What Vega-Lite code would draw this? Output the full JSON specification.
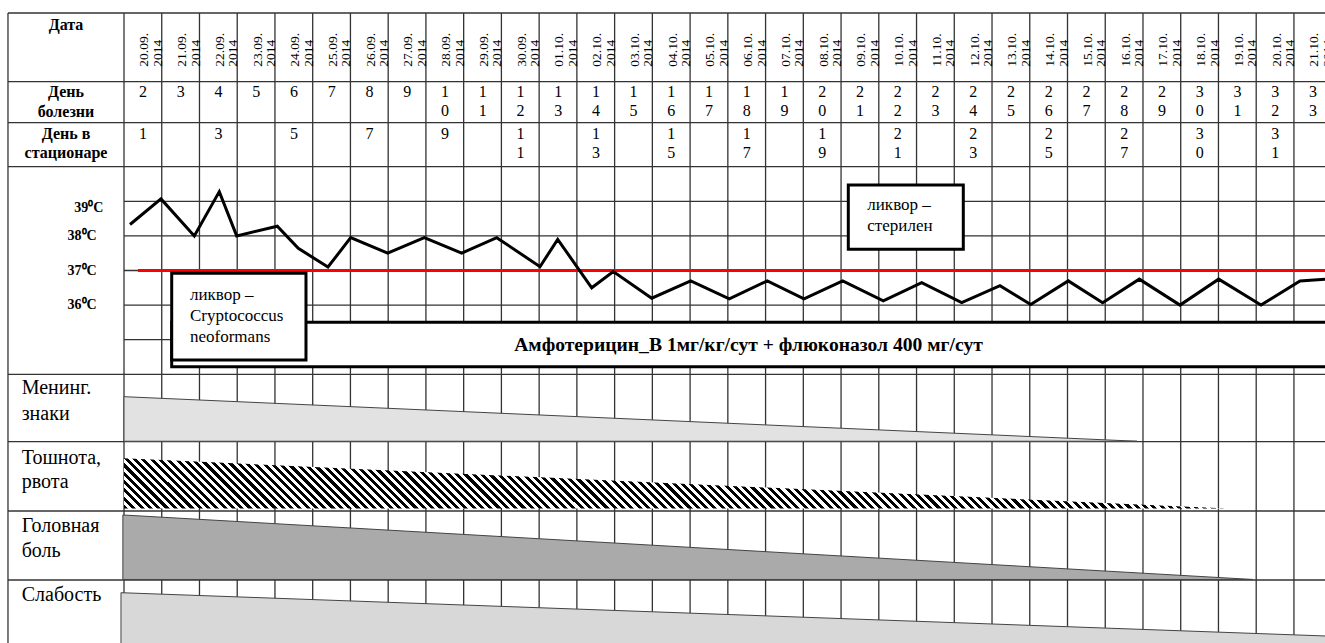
{
"$schema":"https://vega.github.io/schema/vega-lite/v6.json",
"width":1325,"height":643,"autosize":"none","padding":0,"background":"white",
"config":{"view":{"stroke":null},"axis":{"disable":true},"text":{"font":"Liberation Serif","color":"#000"}},
"datasets":{
"days":[
{"i":0,"date":"20.09.2014","ill":2,"hosp":1},
{"i":1,"date":"21.09.2014","ill":3,"hosp":null},
{"i":2,"date":"22.09.2014","ill":4,"hosp":3},
{"i":3,"date":"23.09.2014","ill":5,"hosp":null},
{"i":4,"date":"24.09.2014","ill":6,"hosp":5},
{"i":5,"date":"25.09.2014","ill":7,"hosp":null},
{"i":6,"date":"26.09.2014","ill":8,"hosp":7},
{"i":7,"date":"27.09.2014","ill":9,"hosp":null},
{"i":8,"date":"28.09.2014","ill":10,"hosp":9},
{"i":9,"date":"29.09.2014","ill":11,"hosp":null},
{"i":10,"date":"30.09.2014","ill":12,"hosp":11},
{"i":11,"date":"01.10.2014","ill":13,"hosp":null},
{"i":12,"date":"02.10.2014","ill":14,"hosp":13},
{"i":13,"date":"03.10.2014","ill":15,"hosp":null},
{"i":14,"date":"04.10.2014","ill":16,"hosp":15},
{"i":15,"date":"05.10.2014","ill":17,"hosp":null},
{"i":16,"date":"06.10.2014","ill":18,"hosp":17},
{"i":17,"date":"07.10.2014","ill":19,"hosp":null},
{"i":18,"date":"08.10.2014","ill":20,"hosp":19},
{"i":19,"date":"09.10.2014","ill":21,"hosp":null},
{"i":20,"date":"10.10.2014","ill":22,"hosp":21},
{"i":21,"date":"11.10.2014","ill":23,"hosp":null},
{"i":22,"date":"12.10.2014","ill":24,"hosp":23},
{"i":23,"date":"13.10.2014","ill":25,"hosp":null},
{"i":24,"date":"14.10.2014","ill":26,"hosp":25},
{"i":25,"date":"15.10.2014","ill":27,"hosp":null},
{"i":26,"date":"16.10.2014","ill":28,"hosp":27},
{"i":27,"date":"17.10.2014","ill":29,"hosp":null},
{"i":28,"date":"18.10.2014","ill":30,"hosp":30},
{"i":29,"date":"19.10.2014","ill":31,"hosp":null},
{"i":30,"date":"20.10.2014","ill":32,"hosp":31},
{"i":31,"date":"21.10.2014","ill":33,"hosp":null}
],
"temp":[{"d":0.159,"t":38.33},{"d":0.98,"t":39.07},{"d":1.863,"t":38.0},{"d":2.525,"t":39.28},{"d":2.986,"t":38.0},{"d":4.062,"t":38.28},{"d":4.618,"t":37.64},{"d":5.405,"t":37.1},{"d":6.007,"t":37.95},{"d":6.987,"t":37.5},{"d":7.957,"t":37.95},{"d":8.948,"t":37.5},{"d":9.876,"t":37.95},{"d":11.023,"t":37.11},{"d":11.492,"t":37.9},{"d":12.393,"t":36.5},{"d":12.965,"t":36.97},{"d":13.983,"t":36.2},{"d":15.016,"t":36.7},{"d":16.039,"t":36.18},{"d":17.046,"t":36.7},{"d":18.018,"t":36.18},{"d":19.043,"t":36.7},{"d":20.119,"t":36.12},{"d":21.137,"t":36.65},{"d":22.197,"t":36.07},{"d":23.211,"t":36.56},{"d":24.025,"t":36.02},{"d":25.021,"t":36.7},{"d":25.932,"t":36.07},{"d":26.902,"t":36.75},{"d":27.981,"t":36.0},{"d":29.006,"t":36.75},{"d":30.127,"t":36.0},{"d":31.161,"t":36.7},{"d":31.823,"t":36.75}]
},
"layer":[
{"data":{"name":"days"},"mark":{"type":"rule","color":"#333","strokeWidth":1.3},
 "encoding":{"x":{"field":"i","type":"quantitative","scale":{"domain":[-3.2856,31.823],"nice":false,"zero":false}},
  "y":{"datum":44.442,"type":"quantitative","scale":{"domain":[26.234,44.818],"nice":false,"zero":false}},
  "y2":{"datum":26.234}}},
{"data":{"values":[{}]},"mark":{"type":"rule","color":"#333","strokeWidth":1.3},
 "encoding":{"x":{"datum":-3.074,"type":"quantitative"},"y":{"datum":44.442,"type":"quantitative"},"y2":{"datum":26.234}}},
{"data":{"values":[{"b":44.442},{"b":42.457},{"b":41.272},{"b":40},{"b":34},{"b":32.052},{"b":30.049},{"b":28.055}]},
 "mark":{"type":"rule","color":"#333","strokeWidth":1.3,"clip":true},
 "encoding":{"x":{"datum":-3.074,"type":"quantitative"},"x2":{"datum":32},"y":{"field":"b","type":"quantitative"}}},
{"data":{"values":[{"t":35},{"t":36},{"t":37},{"t":38},{"t":39}]},
 "mark":{"type":"rule","color":"#333","strokeWidth":1.3,"clip":true},
 "encoding":{"x":{"datum":0,"type":"quantitative"},"x2":{"datum":32},"y":{"field":"t","type":"quantitative"}}},
{"data":{"values":[{"d":0,"top":33.353,"bot":32.065},{"d":26.84,"top":32.065,"bot":32.065}]},
 "mark":{"type":"area","fill":"#e2e2e2","stroke":"#444","strokeWidth":1},
 "encoding":{"x":{"field":"d","type":"quantitative"},"y":{"field":"top","type":"quantitative"},"y2":{"field":"bot"}}},
{"data":{"values":[{"d":0,"top":31.572,"bot":30.12},{"d":29.23,"top":30.12,"bot":30.12}]},
 "mark":{"type":"area","fill":{"gradient":"linear","x1":0,"y1":1,"x2":1.8773,"y2":0.91447,"stops":[
{"offset":0,"color":"#000"},
{"offset":0.002,"color":"#000"},{"offset":0.002,"color":"#fff"},{"offset":0.004,"color":"#fff"},{"offset":0.004,"color":"#000"},{"offset":0.006,"color":"#000"},{"offset":0.006,"color":"#fff"},{"offset":0.008,"color":"#fff"},{"offset":0.008,"color":"#000"},{"offset":0.01,"color":"#000"},{"offset":0.01,"color":"#fff"},{"offset":0.012,"color":"#fff"},{"offset":0.012,"color":"#000"},{"offset":0.014,"color":"#000"},{"offset":0.014,"color":"#fff"},{"offset":0.016,"color":"#fff"},{"offset":0.016,"color":"#000"},{"offset":0.018,"color":"#000"},{"offset":0.018,"color":"#fff"},{"offset":0.02,"color":"#fff"},{"offset":0.02,"color":"#000"},
{"offset":0.022,"color":"#000"},{"offset":0.022,"color":"#fff"},{"offset":0.024,"color":"#fff"},{"offset":0.024,"color":"#000"},{"offset":0.026,"color":"#000"},{"offset":0.026,"color":"#fff"},{"offset":0.028,"color":"#fff"},{"offset":0.028,"color":"#000"},{"offset":0.03,"color":"#000"},{"offset":0.03,"color":"#fff"},{"offset":0.032,"color":"#fff"},{"offset":0.032,"color":"#000"},{"offset":0.034,"color":"#000"},{"offset":0.034,"color":"#fff"},{"offset":0.036,"color":"#fff"},{"offset":0.036,"color":"#000"},{"offset":0.038,"color":"#000"},{"offset":0.038,"color":"#fff"},{"offset":0.04,"color":"#fff"},{"offset":0.04,"color":"#000"},
{"offset":0.042,"color":"#000"},{"offset":0.042,"color":"#fff"},{"offset":0.044,"color":"#fff"},{"offset":0.044,"color":"#000"},{"offset":0.046,"color":"#000"},{"offset":0.046,"color":"#fff"},{"offset":0.048,"color":"#fff"},{"offset":0.048,"color":"#000"},{"offset":0.05,"color":"#000"},{"offset":0.05,"color":"#fff"},{"offset":0.052,"color":"#fff"},{"offset":0.052,"color":"#000"},{"offset":0.054,"color":"#000"},{"offset":0.054,"color":"#fff"},{"offset":0.056,"color":"#fff"},{"offset":0.056,"color":"#000"},{"offset":0.058,"color":"#000"},{"offset":0.058,"color":"#fff"},{"offset":0.06,"color":"#fff"},{"offset":0.06,"color":"#000"},
{"offset":0.062,"color":"#000"},{"offset":0.062,"color":"#fff"},{"offset":0.064,"color":"#fff"},{"offset":0.064,"color":"#000"},{"offset":0.066,"color":"#000"},{"offset":0.066,"color":"#fff"},{"offset":0.068,"color":"#fff"},{"offset":0.068,"color":"#000"},{"offset":0.07,"color":"#000"},{"offset":0.07,"color":"#fff"},{"offset":0.072,"color":"#fff"},{"offset":0.072,"color":"#000"},{"offset":0.074,"color":"#000"},{"offset":0.074,"color":"#fff"},{"offset":0.076,"color":"#fff"},{"offset":0.076,"color":"#000"},{"offset":0.078,"color":"#000"},{"offset":0.078,"color":"#fff"},{"offset":0.08,"color":"#fff"},{"offset":0.08,"color":"#000"},
{"offset":0.082,"color":"#000"},{"offset":0.082,"color":"#fff"},{"offset":0.084,"color":"#fff"},{"offset":0.084,"color":"#000"},{"offset":0.086,"color":"#000"},{"offset":0.086,"color":"#fff"},{"offset":0.088,"color":"#fff"},{"offset":0.088,"color":"#000"},{"offset":0.09,"color":"#000"},{"offset":0.09,"color":"#fff"},{"offset":0.092,"color":"#fff"},{"offset":0.092,"color":"#000"},{"offset":0.094,"color":"#000"},{"offset":0.094,"color":"#fff"},{"offset":0.096,"color":"#fff"},{"offset":0.096,"color":"#000"},{"offset":0.098,"color":"#000"},{"offset":0.098,"color":"#fff"},{"offset":0.1,"color":"#fff"},{"offset":0.1,"color":"#000"},
{"offset":0.102,"color":"#000"},{"offset":0.102,"color":"#fff"},{"offset":0.104,"color":"#fff"},{"offset":0.104,"color":"#000"},{"offset":0.106,"color":"#000"},{"offset":0.106,"color":"#fff"},{"offset":0.108,"color":"#fff"},{"offset":0.108,"color":"#000"},{"offset":0.11,"color":"#000"},{"offset":0.11,"color":"#fff"},{"offset":0.112,"color":"#fff"},{"offset":0.112,"color":"#000"},{"offset":0.114,"color":"#000"},{"offset":0.114,"color":"#fff"},{"offset":0.116,"color":"#fff"},{"offset":0.116,"color":"#000"},{"offset":0.118,"color":"#000"},{"offset":0.118,"color":"#fff"},{"offset":0.12,"color":"#fff"},{"offset":0.12,"color":"#000"},
{"offset":0.122,"color":"#000"},{"offset":0.122,"color":"#fff"},{"offset":0.124,"color":"#fff"},{"offset":0.124,"color":"#000"},{"offset":0.126,"color":"#000"},{"offset":0.126,"color":"#fff"},{"offset":0.128,"color":"#fff"},{"offset":0.128,"color":"#000"},{"offset":0.13,"color":"#000"},{"offset":0.13,"color":"#fff"},{"offset":0.132,"color":"#fff"},{"offset":0.132,"color":"#000"},{"offset":0.134,"color":"#000"},{"offset":0.134,"color":"#fff"},{"offset":0.136,"color":"#fff"},{"offset":0.136,"color":"#000"},{"offset":0.138,"color":"#000"},{"offset":0.138,"color":"#fff"},{"offset":0.14,"color":"#fff"},{"offset":0.14,"color":"#000"},
{"offset":0.142,"color":"#000"},{"offset":0.142,"color":"#fff"},{"offset":0.144,"color":"#fff"},{"offset":0.144,"color":"#000"},{"offset":0.146,"color":"#000"},{"offset":0.146,"color":"#fff"},{"offset":0.148,"color":"#fff"},{"offset":0.148,"color":"#000"},{"offset":0.15,"color":"#000"},{"offset":0.15,"color":"#fff"},{"offset":0.152,"color":"#fff"},{"offset":0.152,"color":"#000"},{"offset":0.154,"color":"#000"},{"offset":0.154,"color":"#fff"},{"offset":0.156,"color":"#fff"},{"offset":0.156,"color":"#000"},{"offset":0.158,"color":"#000"},{"offset":0.158,"color":"#fff"},{"offset":0.16,"color":"#fff"},{"offset":0.16,"color":"#000"},
{"offset":0.162,"color":"#000"},{"offset":0.162,"color":"#fff"},{"offset":0.164,"color":"#fff"},{"offset":0.164,"color":"#000"},{"offset":0.166,"color":"#000"},{"offset":0.166,"color":"#fff"},{"offset":0.168,"color":"#fff"},{"offset":0.168,"color":"#000"},{"offset":0.17,"color":"#000"},{"offset":0.17,"color":"#fff"},{"offset":0.172,"color":"#fff"},{"offset":0.172,"color":"#000"},{"offset":0.174,"color":"#000"},{"offset":0.174,"color":"#fff"},{"offset":0.176,"color":"#fff"},{"offset":0.176,"color":"#000"},{"offset":0.178,"color":"#000"},{"offset":0.178,"color":"#fff"},{"offset":0.18,"color":"#fff"},{"offset":0.18,"color":"#000"},
{"offset":0.182,"color":"#000"},{"offset":0.182,"color":"#fff"},{"offset":0.184,"color":"#fff"},{"offset":0.184,"color":"#000"},{"offset":0.186,"color":"#000"},{"offset":0.186,"color":"#fff"},{"offset":0.188,"color":"#fff"},{"offset":0.188,"color":"#000"},{"offset":0.19,"color":"#000"},{"offset":0.19,"color":"#fff"},{"offset":0.192,"color":"#fff"},{"offset":0.192,"color":"#000"},{"offset":0.194,"color":"#000"},{"offset":0.194,"color":"#fff"},{"offset":0.196,"color":"#fff"},{"offset":0.196,"color":"#000"},{"offset":0.198,"color":"#000"},{"offset":0.198,"color":"#fff"},{"offset":0.2,"color":"#fff"},{"offset":0.2,"color":"#000"},
{"offset":0.202,"color":"#000"},{"offset":0.202,"color":"#fff"},{"offset":0.204,"color":"#fff"},{"offset":0.204,"color":"#000"},{"offset":0.206,"color":"#000"},{"offset":0.206,"color":"#fff"},{"offset":0.208,"color":"#fff"},{"offset":0.208,"color":"#000"},{"offset":0.21,"color":"#000"},{"offset":0.21,"color":"#fff"},{"offset":0.212,"color":"#fff"},{"offset":0.212,"color":"#000"},{"offset":0.214,"color":"#000"},{"offset":0.214,"color":"#fff"},{"offset":0.216,"color":"#fff"},{"offset":0.216,"color":"#000"},{"offset":0.218,"color":"#000"},{"offset":0.218,"color":"#fff"},{"offset":0.22,"color":"#fff"},{"offset":0.22,"color":"#000"},
{"offset":0.222,"color":"#000"},{"offset":0.222,"color":"#fff"},{"offset":0.224,"color":"#fff"},{"offset":0.224,"color":"#000"},{"offset":0.226,"color":"#000"},{"offset":0.226,"color":"#fff"},{"offset":0.228,"color":"#fff"},{"offset":0.228,"color":"#000"},{"offset":0.23,"color":"#000"},{"offset":0.23,"color":"#fff"},{"offset":0.232,"color":"#fff"},{"offset":0.232,"color":"#000"},{"offset":0.234,"color":"#000"},{"offset":0.234,"color":"#fff"},{"offset":0.236,"color":"#fff"},{"offset":0.236,"color":"#000"},{"offset":0.238,"color":"#000"},{"offset":0.238,"color":"#fff"},{"offset":0.24,"color":"#fff"},{"offset":0.24,"color":"#000"},
{"offset":0.242,"color":"#000"},{"offset":0.242,"color":"#fff"},{"offset":0.244,"color":"#fff"},{"offset":0.244,"color":"#000"},{"offset":0.246,"color":"#000"},{"offset":0.246,"color":"#fff"},{"offset":0.248,"color":"#fff"},{"offset":0.248,"color":"#000"},{"offset":0.25,"color":"#000"},{"offset":0.25,"color":"#fff"},{"offset":0.252,"color":"#fff"},{"offset":0.252,"color":"#000"},{"offset":0.254,"color":"#000"},{"offset":0.254,"color":"#fff"},{"offset":0.256,"color":"#fff"},{"offset":0.256,"color":"#000"},{"offset":0.258,"color":"#000"},{"offset":0.258,"color":"#fff"},{"offset":0.26,"color":"#fff"},{"offset":0.26,"color":"#000"},
{"offset":0.262,"color":"#000"},{"offset":0.262,"color":"#fff"},{"offset":0.264,"color":"#fff"},{"offset":0.264,"color":"#000"},{"offset":0.266,"color":"#000"},{"offset":0.266,"color":"#fff"},{"offset":0.268,"color":"#fff"},{"offset":0.268,"color":"#000"},{"offset":0.27,"color":"#000"},{"offset":0.27,"color":"#fff"},{"offset":0.272,"color":"#fff"},{"offset":0.272,"color":"#000"},{"offset":0.274,"color":"#000"},{"offset":0.274,"color":"#fff"},{"offset":0.276,"color":"#fff"},{"offset":0.276,"color":"#000"},{"offset":0.278,"color":"#000"},{"offset":0.278,"color":"#fff"},{"offset":0.28,"color":"#fff"},{"offset":0.28,"color":"#000"},
{"offset":0.282,"color":"#000"},{"offset":0.282,"color":"#fff"},{"offset":0.284,"color":"#fff"},{"offset":0.284,"color":"#000"},{"offset":0.286,"color":"#000"},{"offset":0.286,"color":"#fff"},{"offset":0.288,"color":"#fff"},{"offset":0.288,"color":"#000"},{"offset":0.29,"color":"#000"},{"offset":0.29,"color":"#fff"},{"offset":0.292,"color":"#fff"},{"offset":0.292,"color":"#000"},{"offset":0.294,"color":"#000"},{"offset":0.294,"color":"#fff"},{"offset":0.296,"color":"#fff"},{"offset":0.296,"color":"#000"},{"offset":0.298,"color":"#000"},{"offset":0.298,"color":"#fff"},{"offset":0.3,"color":"#fff"},{"offset":0.3,"color":"#000"},
{"offset":0.302,"color":"#000"},{"offset":0.302,"color":"#fff"},{"offset":0.304,"color":"#fff"},{"offset":0.304,"color":"#000"},{"offset":0.306,"color":"#000"},{"offset":0.306,"color":"#fff"},{"offset":0.308,"color":"#fff"},{"offset":0.308,"color":"#000"},{"offset":0.31,"color":"#000"},{"offset":0.31,"color":"#fff"},{"offset":0.312,"color":"#fff"},{"offset":0.312,"color":"#000"},{"offset":0.314,"color":"#000"},{"offset":0.314,"color":"#fff"},{"offset":0.316,"color":"#fff"},{"offset":0.316,"color":"#000"},{"offset":0.318,"color":"#000"},{"offset":0.318,"color":"#fff"},{"offset":0.32,"color":"#fff"},{"offset":0.32,"color":"#000"},
{"offset":0.322,"color":"#000"},{"offset":0.322,"color":"#fff"},{"offset":0.324,"color":"#fff"},{"offset":0.324,"color":"#000"},{"offset":0.326,"color":"#000"},{"offset":0.326,"color":"#fff"},{"offset":0.328,"color":"#fff"},{"offset":0.328,"color":"#000"},{"offset":0.33,"color":"#000"},{"offset":0.33,"color":"#fff"},{"offset":0.332,"color":"#fff"},{"offset":0.332,"color":"#000"},{"offset":0.334,"color":"#000"},{"offset":0.334,"color":"#fff"},{"offset":0.336,"color":"#fff"},{"offset":0.336,"color":"#000"},{"offset":0.338,"color":"#000"},{"offset":0.338,"color":"#fff"},{"offset":0.34,"color":"#fff"},{"offset":0.34,"color":"#000"},
{"offset":0.342,"color":"#000"},{"offset":0.342,"color":"#fff"},{"offset":0.344,"color":"#fff"},{"offset":0.344,"color":"#000"},{"offset":0.346,"color":"#000"},{"offset":0.346,"color":"#fff"},{"offset":0.348,"color":"#fff"},{"offset":0.348,"color":"#000"},{"offset":0.35,"color":"#000"},{"offset":0.35,"color":"#fff"},{"offset":0.352,"color":"#fff"},{"offset":0.352,"color":"#000"},{"offset":0.354,"color":"#000"},{"offset":0.354,"color":"#fff"},{"offset":0.356,"color":"#fff"},{"offset":0.356,"color":"#000"},{"offset":0.358,"color":"#000"},{"offset":0.358,"color":"#fff"},{"offset":0.36,"color":"#fff"},{"offset":0.36,"color":"#000"},
{"offset":0.362,"color":"#000"},{"offset":0.362,"color":"#fff"},{"offset":0.364,"color":"#fff"},{"offset":0.364,"color":"#000"},{"offset":0.366,"color":"#000"},{"offset":0.366,"color":"#fff"},{"offset":0.368,"color":"#fff"},{"offset":0.368,"color":"#000"},{"offset":0.37,"color":"#000"},{"offset":0.37,"color":"#fff"},{"offset":0.372,"color":"#fff"},{"offset":0.372,"color":"#000"},{"offset":0.374,"color":"#000"},{"offset":0.374,"color":"#fff"},{"offset":0.376,"color":"#fff"},{"offset":0.376,"color":"#000"},{"offset":0.378,"color":"#000"},{"offset":0.378,"color":"#fff"},{"offset":0.38,"color":"#fff"},{"offset":0.38,"color":"#000"},
{"offset":0.382,"color":"#000"},{"offset":0.382,"color":"#fff"},{"offset":0.384,"color":"#fff"},{"offset":0.384,"color":"#000"},{"offset":0.386,"color":"#000"},{"offset":0.386,"color":"#fff"},{"offset":0.388,"color":"#fff"},{"offset":0.388,"color":"#000"},{"offset":0.39,"color":"#000"},{"offset":0.39,"color":"#fff"},{"offset":0.392,"color":"#fff"},{"offset":0.392,"color":"#000"},{"offset":0.394,"color":"#000"},{"offset":0.394,"color":"#fff"},{"offset":0.396,"color":"#fff"},{"offset":0.396,"color":"#000"},{"offset":0.398,"color":"#000"},{"offset":0.398,"color":"#fff"},{"offset":0.4,"color":"#fff"},{"offset":0.4,"color":"#000"},
{"offset":0.402,"color":"#000"},{"offset":0.402,"color":"#fff"},{"offset":0.404,"color":"#fff"},{"offset":0.404,"color":"#000"},{"offset":0.406,"color":"#000"},{"offset":0.406,"color":"#fff"},{"offset":0.408,"color":"#fff"},{"offset":0.408,"color":"#000"},{"offset":0.41,"color":"#000"},{"offset":0.41,"color":"#fff"},{"offset":0.412,"color":"#fff"},{"offset":0.412,"color":"#000"},{"offset":0.414,"color":"#000"},{"offset":0.414,"color":"#fff"},{"offset":0.416,"color":"#fff"},{"offset":0.416,"color":"#000"},{"offset":0.418,"color":"#000"},{"offset":0.418,"color":"#fff"},{"offset":0.42,"color":"#fff"},{"offset":0.42,"color":"#000"},
{"offset":0.422,"color":"#000"},{"offset":0.422,"color":"#fff"},{"offset":0.424,"color":"#fff"},{"offset":0.424,"color":"#000"},{"offset":0.426,"color":"#000"},{"offset":0.426,"color":"#fff"},{"offset":0.428,"color":"#fff"},{"offset":0.428,"color":"#000"},{"offset":0.43,"color":"#000"},{"offset":0.43,"color":"#fff"},{"offset":0.432,"color":"#fff"},{"offset":0.432,"color":"#000"},{"offset":0.434,"color":"#000"},{"offset":0.434,"color":"#fff"},{"offset":0.436,"color":"#fff"},{"offset":0.436,"color":"#000"},{"offset":0.438,"color":"#000"},{"offset":0.438,"color":"#fff"},{"offset":0.44,"color":"#fff"},{"offset":0.44,"color":"#000"},
{"offset":0.442,"color":"#000"},{"offset":0.442,"color":"#fff"},{"offset":0.444,"color":"#fff"},{"offset":0.444,"color":"#000"},{"offset":0.446,"color":"#000"},{"offset":0.446,"color":"#fff"},{"offset":0.448,"color":"#fff"},{"offset":0.448,"color":"#000"},{"offset":0.45,"color":"#000"},{"offset":0.45,"color":"#fff"},{"offset":0.452,"color":"#fff"},{"offset":0.452,"color":"#000"},{"offset":0.454,"color":"#000"},{"offset":0.454,"color":"#fff"},{"offset":0.456,"color":"#fff"},{"offset":0.456,"color":"#000"},{"offset":0.458,"color":"#000"},{"offset":0.458,"color":"#fff"},{"offset":0.46,"color":"#fff"},{"offset":0.46,"color":"#000"},
{"offset":0.462,"color":"#000"},{"offset":0.462,"color":"#fff"},{"offset":0.464,"color":"#fff"},{"offset":0.464,"color":"#000"},{"offset":0.466,"color":"#000"},{"offset":0.466,"color":"#fff"},{"offset":0.468,"color":"#fff"},{"offset":0.468,"color":"#000"},{"offset":0.47,"color":"#000"},{"offset":0.47,"color":"#fff"},{"offset":0.472,"color":"#fff"},{"offset":0.472,"color":"#000"},{"offset":0.474,"color":"#000"},{"offset":0.474,"color":"#fff"},{"offset":0.476,"color":"#fff"},{"offset":0.476,"color":"#000"},{"offset":0.478,"color":"#000"},{"offset":0.478,"color":"#fff"},{"offset":0.48,"color":"#fff"},{"offset":0.48,"color":"#000"},
{"offset":0.482,"color":"#000"},{"offset":0.482,"color":"#fff"},{"offset":0.484,"color":"#fff"},{"offset":0.484,"color":"#000"},{"offset":0.486,"color":"#000"},{"offset":0.486,"color":"#fff"},{"offset":0.488,"color":"#fff"},{"offset":0.488,"color":"#000"},{"offset":0.49,"color":"#000"},{"offset":0.49,"color":"#fff"},{"offset":0.492,"color":"#fff"},{"offset":0.492,"color":"#000"},{"offset":0.494,"color":"#000"},{"offset":0.494,"color":"#fff"},{"offset":0.496,"color":"#fff"},{"offset":0.496,"color":"#000"},{"offset":0.498,"color":"#000"},{"offset":0.498,"color":"#fff"},{"offset":0.5,"color":"#fff"},{"offset":0.5,"color":"#000"},
{"offset":0.502,"color":"#000"},{"offset":0.502,"color":"#fff"},{"offset":0.504,"color":"#fff"},{"offset":0.504,"color":"#000"},{"offset":0.506,"color":"#000"},{"offset":0.506,"color":"#fff"},{"offset":0.508,"color":"#fff"},{"offset":0.508,"color":"#000"},{"offset":0.51,"color":"#000"},{"offset":0.51,"color":"#fff"},{"offset":0.512,"color":"#fff"},{"offset":0.512,"color":"#000"},{"offset":0.514,"color":"#000"},{"offset":0.514,"color":"#fff"},{"offset":0.516,"color":"#fff"},{"offset":0.516,"color":"#000"},{"offset":0.518,"color":"#000"},{"offset":0.518,"color":"#fff"},{"offset":0.52,"color":"#fff"},{"offset":0.52,"color":"#000"},
{"offset":0.522,"color":"#000"},{"offset":0.522,"color":"#fff"},{"offset":0.524,"color":"#fff"},{"offset":0.524,"color":"#000"},{"offset":0.526,"color":"#000"},{"offset":0.526,"color":"#fff"},{"offset":0.528,"color":"#fff"},{"offset":0.528,"color":"#000"},{"offset":0.53,"color":"#000"},{"offset":0.53,"color":"#fff"},{"offset":0.532,"color":"#fff"},{"offset":0.532,"color":"#000"},{"offset":0.534,"color":"#000"},{"offset":0.534,"color":"#fff"},{"offset":0.536,"color":"#fff"},{"offset":0.536,"color":"#000"},{"offset":0.538,"color":"#000"},{"offset":0.538,"color":"#fff"},{"offset":0.54,"color":"#fff"},{"offset":0.54,"color":"#000"},
{"offset":0.542,"color":"#000"},{"offset":0.542,"color":"#fff"},{"offset":0.544,"color":"#fff"},{"offset":0.544,"color":"#000"},{"offset":0.546,"color":"#000"},{"offset":0.546,"color":"#fff"},{"offset":0.548,"color":"#fff"},{"offset":0.548,"color":"#000"},{"offset":0.55,"color":"#000"},{"offset":0.55,"color":"#fff"},{"offset":0.552,"color":"#fff"}
]}},
 "encoding":{"x":{"field":"d","type":"quantitative"},"y":{"field":"top","type":"quantitative"},"y2":{"field":"bot"}}},
{"data":{"values":[{"d":-0.03,"top":29.934,"bot":28.07},{"d":29.915,"top":28.07,"bot":28.07}]},
 "mark":{"type":"area","fill":"#aaaaaa","stroke":"#444","strokeWidth":1},
 "encoding":{"x":{"field":"d","type":"quantitative"},"y":{"field":"top","type":"quantitative"},"y2":{"field":"bot"}}},
{"data":{"values":[{"d":-0.08,"top":27.688,"bot":26.0},{"d":34,"top":26.352,"bot":26.0}]},
 "mark":{"type":"area","fill":"#d8d8d8","stroke":"#444","strokeWidth":1,"clip":true},
 "encoding":{"x":{"field":"d","type":"quantitative"},"y":{"field":"top","type":"quantitative"},"y2":{"field":"bot"}}},
{"data":{"values":[{}]},"mark":{"type":"rule","color":"#ff0000","strokeWidth":3,"clip":true},
 "encoding":{"x":{"datum":0.37,"type":"quantitative"},"x2":{"datum":32},"y":{"datum":37,"type":"quantitative"}}},
{"data":{"name":"temp"},"mark":{"type":"line","color":"#000","strokeWidth":3},
 "encoding":{"x":{"field":"d","type":"quantitative"},"y":{"field":"t","type":"quantitative"}}},
{"data":{"values":[{}]},"mark":{"type":"rect","fill":"#fff","stroke":"#000","strokeWidth":3,"clip":true},
 "encoding":{"x":{"datum":1.264,"type":"quantitative"},"x2":{"datum":33},"y":{"datum":35.503,"type":"quantitative"},"y2":{"datum":34.22}}},
{"data":{"values":[{}]},"mark":{"type":"rect","fill":"#fff","stroke":"#000","strokeWidth":3},
 "encoding":{"x":{"datum":1.264,"type":"quantitative"},"x2":{"datum":4.822},"y":{"datum":36.919,"type":"quantitative"},"y2":{"datum":34.413}}},
{"data":{"values":[{}]},"mark":{"type":"rect","fill":"#fff","stroke":"#000","strokeWidth":3},
 "encoding":{"x":{"datum":19.192,"type":"quantitative"},"x2":{"datum":22.239},"y":{"datum":39.471,"type":"quantitative"},"y2":{"datum":37.613}}},
{"data":{"values":[{}]},"mark":{"type":"text","font":"Liberation Serif","fontSize":19.6,"fontWeight":"bold","align":"center","baseline":"middle"},
 "encoding":{"x":{"datum":16.547,"type":"quantitative"},"y":{"datum":34.847,"type":"quantitative"},"text":{"value":"Амфотерицин_В 1мг/кг/сут + флюконазол 400 мг/сут"}}},
{"data":{"values":[{}]},"mark":{"type":"text","font":"Liberation Serif","fontSize":17,"align":"left","baseline":"top","lineHeight":21},
 "encoding":{"x":{"datum":1.749,"type":"quantitative"},"y":{"datum":36.535,"type":"quantitative"},"text":{"value":["ликвор –","Cryptococcus","neoformans"]}}},
{"data":{"values":[{}]},"mark":{"type":"text","font":"Liberation Serif","fontSize":17,"align":"left","baseline":"top","lineHeight":21},
 "encoding":{"x":{"datum":19.695,"type":"quantitative"},"y":{"datum":39.136,"type":"quantitative"},"text":{"value":["ликвор –","стерилен"]}}},
{"data":{"values":[{}]},"mark":{"type":"text","font":"Liberation Serif","fontSize":16,"fontWeight":"bold","align":"center","baseline":"middle"},
 "encoding":{"x":{"datum":-1.537,"type":"quantitative"},"y":{"datum":44.095,"type":"quantitative"},"text":{"value":"Дата"}}},
{"data":{"values":[{}]},"mark":{"type":"text","font":"Liberation Serif","fontSize":16,"fontWeight":"bold","align":"center","baseline":"top","lineHeight":20},
 "encoding":{"x":{"datum":-1.537,"type":"quantitative"},"y":{"datum":42.389,"type":"quantitative"},"text":{"value":["День","болезни"]}}},
{"data":{"values":[{}]},"mark":{"type":"text","font":"Liberation Serif","fontSize":16,"fontWeight":"bold","align":"center","baseline":"top","lineHeight":19.4},
 "encoding":{"x":{"datum":-1.537,"type":"quantitative"},"y":{"datum":41.186,"type":"quantitative"},"text":{"value":["День в","стационаре"]}}},
{"data":{"values":[{"t":38,"lbl":"38⁰C"},{"t":37,"lbl":"37⁰C"},{"t":36,"lbl":"36⁰C"}]},
 "mark":{"type":"text","font":"Liberation Serif","fontSize":14,"fontWeight":"bold","align":"right","baseline":"middle"},
 "encoding":{"x":{"datum":-0.723,"type":"quantitative"},"y":{"field":"t","type":"quantitative"},"text":{"field":"lbl"}}},
{"data":{"values":[{}]},"mark":{"type":"text","font":"Liberation Serif","fontSize":14,"fontWeight":"bold","align":"right","baseline":"middle"},
 "encoding":{"x":{"datum":-0.548,"type":"quantitative"},"y":{"datum":38.8,"type":"quantitative"},"text":{"value":"39⁰C"}}},
{"data":{"values":[{}]},"mark":{"type":"text","font":"Liberation Serif","fontSize":20,"align":"left","baseline":"top","lineHeight":26},
 "encoding":{"x":{"datum":-2.711,"type":"quantitative"},"y":{"datum":33.907,"type":"quantitative"},"text":{"value":["Менинг.","знаки"]}}},
{"data":{"values":[{}]},"mark":{"type":"text","font":"Liberation Serif","fontSize":20,"align":"left","baseline":"top","lineHeight":24},
 "encoding":{"x":{"datum":-2.711,"type":"quantitative"},"y":{"datum":31.884,"type":"quantitative"},"text":{"value":["Тошнота,","рвота"]}}},
{"data":{"values":[{}]},"mark":{"type":"text","font":"Liberation Serif","fontSize":20,"align":"left","baseline":"top","lineHeight":25},
 "encoding":{"x":{"datum":-2.711,"type":"quantitative"},"y":{"datum":29.908,"type":"quantitative"},"text":{"value":["Головная","боль"]}}},
{"data":{"values":[{}]},"mark":{"type":"text","font":"Liberation Serif","fontSize":20,"align":"left","baseline":"top"},
 "encoding":{"x":{"datum":-2.711,"type":"quantitative"},"y":{"datum":27.913,"type":"quantitative"},"text":{"value":"Слабость"}}},
{"data":{"name":"days"},"transform":[{"calculate":"slice(datum.date,0,6)+'|'+slice(datum.date,6)","as":"lbl"}],
 "mark":{"type":"text","font":"Liberation Serif","fontSize":13.5,"angle":270,"align":"left","baseline":"top","lineHeight":13.5,"lineBreak":"|","dy":13.3},
 "encoding":{"x":{"field":"i","type":"quantitative"},"y":{"datum":42.89,"type":"quantitative"},"text":{"field":"lbl"}}},
{"data":{"name":"days"},"transform":[{"calculate":"length(''+datum.ill) > 1 ? slice(''+datum.ill,0,1)+'|'+slice(''+datum.ill,1) : ''+datum.ill","as":"lbl"}],
 "mark":{"type":"text","font":"Liberation Serif","fontSize":16,"align":"center","baseline":"top","lineHeight":18.4,"lineBreak":"|","dx":19},
 "encoding":{"x":{"field":"i","type":"quantitative"},"y":{"datum":42.377,"type":"quantitative"},"text":{"field":"lbl"}}},
{"data":{"name":"days"},"transform":[{"filter":"datum.hosp != null"},{"calculate":"length(''+datum.hosp) > 1 ? slice(''+datum.hosp,0,1)+'|'+slice(''+datum.hosp,1) : ''+datum.hosp","as":"lbl"}],
 "mark":{"type":"text","font":"Liberation Serif","fontSize":16,"align":"center","baseline":"top","lineHeight":19.4,"lineBreak":"|","dx":19},
 "encoding":{"x":{"field":"i","type":"quantitative"},"y":{"datum":41.175,"type":"quantitative"},"text":{"field":"lbl"}}}
]
}
